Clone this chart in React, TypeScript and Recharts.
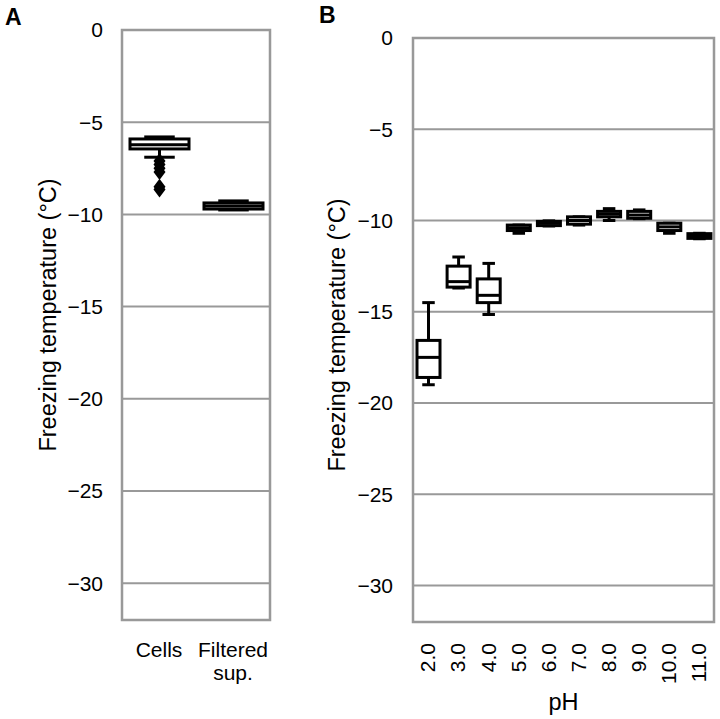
import {
  Bar,
  CartesianGrid,
  ComposedChart,
  Label,
  ReferenceArea,
  XAxis,
  YAxis,
} from 'recharts';

// panel A: cells vs filtered supernatant
const catsA = ['Cells', 'Filtered sup.'];
const minA = [-6.9, -9.76];
const q1A = [-6.45, -9.71];
const medA = [-6.22, -9.55];
const q3A = [-5.91, -9.38];
const maxA = [-5.8, -9.27];
const outliersA = [[-7.1, -7.3, -7.5, -7.7, -8.5, -8.65], []];

// panel B: pH series
const catsB = ['2.0', '3.0', '4.0', '5.0', '6.0', '7.0', '8.0', '9.0', '10.0', '11.0'];
const minB = [-19.0, -13.7, -15.15, -10.7, -10.3, -10.25, -10.0, -9.9, -10.7, -11.0];
const q1B = [-18.6, -13.65, -14.5, -10.55, -10.28, -10.2, -9.8, -9.88, -10.55, -10.98];
const medB = [-17.5, -13.35, -14.1, -10.4, -10.15, -10.0, -9.65, -9.7, -10.35, -10.85];
const q3B = [-16.57, -12.5, -13.2, -10.25, -10.05, -9.8, -9.5, -9.5, -10.15, -10.72];
const maxB = [-14.5, -12.0, -12.35, -10.25, -10.02, -9.8, -9.35, -9.42, -10.15, -10.7];

const yTicks = [0, -5, -10, -15, -20, -25, -30];
const yLabel = 'Freezing temperature (°C)';

const dataA = catsA.map((name, i) => ({
  name,
  min: minA[i],
  q1: q1A[i],
  med: medA[i],
  q3: q3A[i],
  max: maxA[i],
  outliers: outliersA[i],
}));

const dataB = catsB.map((name, i) => ({
  name,
  min: minB[i],
  q1: q1B[i],
  med: medB[i],
  q3: q3B[i],
  max: maxB[i],
  outliers: [] as number[],
}));

const FONT = '"Liberation Sans", Arial, sans-serif';
const GRID = '#999';

const fmt = (v: number) => (v < 0 ? '\u2212' + Math.abs(v) : String(v));

// whisker range bar -> full box plot, positions interpolated from bar rect
function BoxShape(props: any) {
  const { x, y, width, height, payload } = props;
  const top = Math.min(y, y + height);
  const h = Math.abs(height);
  const span = payload.max - payload.min;
  const toY = (v: number) => (span === 0 ? top : top + ((payload.max - v) / span) * h);
  const cx = x + width / 2;
  const cap = width * 0.25;
  return (
    <g stroke="#000" strokeWidth={3} fill="none">
      <line x1={cx} x2={cx} y1={toY(payload.max)} y2={toY(payload.q3)} />
      <line x1={cx} x2={cx} y1={toY(payload.q1)} y2={toY(payload.min)} />
      <line x1={cx - cap} x2={cx + cap} y1={toY(payload.max)} y2={toY(payload.max)} />
      <line x1={cx - cap} x2={cx + cap} y1={toY(payload.min)} y2={toY(payload.min)} />
      <rect
        x={x + 1}
        y={toY(payload.q3)}
        width={width - 2}
        height={toY(payload.q1) - toY(payload.q3)}
        fill="#fff"
      />
      <line x1={x + 1} x2={x + width - 1} y1={toY(payload.med)} y2={toY(payload.med)} />
      {payload.outliers.map((o: number, k: number) => {
        const oy = toY(o);
        return (
          <path
            key={k}
            d={`M${cx},${oy - 8} L${cx + 6},${oy} L${cx},${oy + 8} L${cx - 6},${oy} Z`}
            fill="#000"
            stroke="none"
          />
        );
      })}
    </g>
  );
}

function WrapTick(props: any) {
  const { x, y, payload } = props;
  const lines = String(payload.value).split(' ');
  return (
    <text x={x} y={y} textAnchor="middle" fontSize={21} fill="#000" fontFamily={FONT}>
      {lines.map((l, i) => (
        <tspan key={i} x={x} y={y + 29 + i * 23}>
          {l}
        </tspan>
      ))}
    </text>
  );
}

function RotTick(props: any) {
  const { x, y, payload } = props;
  const ty = y + 13;
  return (
    <text
      x={x}
      y={ty}
      dy="0.35em"
      textAnchor="end"
      fontSize={21}
      fill="#000"
      fontFamily={FONT}
      transform={`rotate(-90, ${x}, ${ty})`}
    >
      {payload.value}
    </text>
  );
}

function yAxisLabel(cxOff: number, cyOff: number) {
  return ({ viewBox }: any) => {
    const lx = viewBox.x + cxOff;
    const ly = viewBox.y + viewBox.height / 2 + cyOff;
    return (
      <text
        x={lx}
        y={ly}
        dy="0.35em"
        textAnchor="middle"
        fontSize={23.5}
        fill="#000"
        fontFamily={FONT}
        transform={`rotate(-90, ${lx}, ${ly})`}
      >
        {yLabel}
      </text>
    );
  };
}

function PanelA() {
  return (
    <ComposedChart
      width={300}
      height={719}
      data={dataA}
      margin={{ top: 30, right: 30, bottom: 19, left: 0 }}
    >
      <CartesianGrid vertical={false} stroke={GRID} strokeWidth={2} />
      <XAxis
        dataKey="name"
        height={80}
        tickLine={false}
        axisLine={false}
        interval={0}
        tick={<WrapTick />}
      />
      <YAxis
        domain={[-32, 0]}
        ticks={yTicks}
        width={122}
        tickLine={false}
        axisLine={false}
        tickMargin={13}
        tickFormatter={fmt}
        tick={{ fontSize: 21, fill: '#000', fontFamily: FONT }}
      >
        <Label content={yAxisLabel(48, -10)} />
      </YAxis>
      <ReferenceArea y1={-32} y2={0} fill="none" stroke={GRID} strokeWidth={2.5} />
      <Bar
        dataKey={(d: any) => [d.min, d.max]}
        barSize={61}
        shape={<BoxShape />}
        isAnimationActive={false}
      />
    </ComposedChart>
  );
}

function PanelB() {
  return (
    <ComposedChart
      width={430}
      height={719}
      data={dataB}
      margin={{ top: 38, right: 6, bottom: 17, left: 0 }}
    >
      <CartesianGrid vertical={false} stroke={GRID} strokeWidth={2} />
      <XAxis
        dataKey="name"
        height={80}
        tickLine={false}
        axisLine={false}
        interval={0}
        tick={<RotTick />}
      >
        <Label
          content={({ viewBox }: any) => (
            <text
              x={viewBox.x + viewBox.width / 2}
              y={710}
              textAnchor="middle"
              fontSize={23.5}
              fill="#000"
              fontFamily={FONT}
            >
              pH
            </text>
          )}
        />
      </XAxis>
      <YAxis
        domain={[-32, 0]}
        ticks={yTicks}
        width={123}
        tickLine={false}
        axisLine={false}
        tickMargin={14}
        tickFormatter={fmt}
        tick={{ fontSize: 21, fill: '#000', fontFamily: FONT }}
      >
        <Label content={yAxisLabel(47, 5)} />
      </YAxis>
      <ReferenceArea y1={-32} y2={0} fill="none" stroke={GRID} strokeWidth={2.5} />
      <Bar
        dataKey={(d: any) => [d.min, d.max]}
        barSize={25}
        shape={<BoxShape />}
        isAnimationActive={false}
      />
    </ComposedChart>
  );
}

export default function App() {
  return (
    <div
      style={{
        position: 'absolute',
        left: 0,
        top: 0,
        width: 720,
        height: 719,
        background: '#fff',
        fontFamily: FONT,
      }}
    >
      <div style={{ position: 'absolute', left: 0, top: 0 }}>
        <PanelA />
      </div>
      <div style={{ position: 'absolute', left: 290, top: 0 }}>
        <PanelB />
      </div>
      <div style={{ position: 'absolute', left: 5, top: 4, fontSize: 23, fontWeight: 'bold' }}>A</div>
      <div style={{ position: 'absolute', left: 319, top: 2, fontSize: 23, fontWeight: 'bold' }}>B</div>
    </div>
  );
}
